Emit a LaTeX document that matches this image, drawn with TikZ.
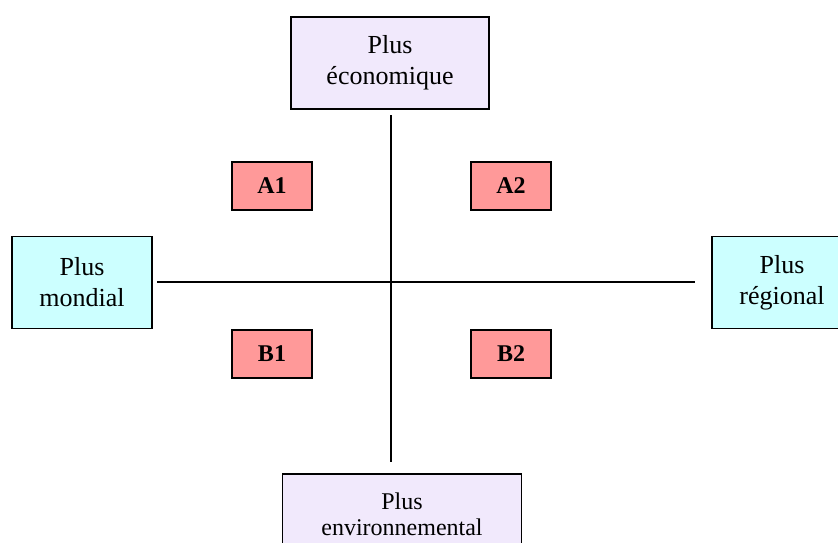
\documentclass[tikz,border=0pt]{standalone}
\usepackage{fontspec}
\setmainfont{Liberation Serif}
\definecolor{lav}{RGB}{241,233,252}
\definecolor{cyanbox}{RGB}{204,255,255}
\definecolor{salmon}{RGB}{255,153,153}
\tikzset{
  bigbox/.style={draw=black, line width=1.5pt, align=center, inner sep=0pt,
    font=\fontsize{26}{31}\selectfont},
  topbox/.style={bigbox, fill=lav, minimum width=198pt, minimum height=92pt},
  sidebox/.style={bigbox, fill=cyanbox, minimum width=140pt, minimum height=92pt},
  botbox/.style={bigbox, fill=lav, minimum width=239pt, minimum height=80pt,
    font=\fontsize{24}{26}\selectfont},
  scen/.style={draw=black, line width=1.5pt, fill=salmon, minimum width=80pt,
    minimum height=48pt, inner sep=0pt, font=\fontsize{24}{26}\selectfont\bfseries},
  axis/.style={line width=2pt, black}
}
\begin{document}
\begin{tikzpicture}[x=1pt,y=-1pt]
\clip (0,0) rectangle (838,543);
\fill[white] (0,0) rectangle (838,543);
\node[topbox] (eco) at (390,63) {Plus\\économique};
\node[sidebox] (mon) at (82,282.5) {Plus\\mondial};
\node[sidebox] (reg) at (782,282.5) {Plus\\régional};
\node[botbox] (env) at (402,514) {Plus\\environnemental};
\node[scen] (a1) at (272,186) {A1};
\node[scen] (a2) at (511,186) {A2};
\node[scen] (b1) at (272,354) {B1};
\node[scen] (b2) at (511,354) {B2};
\coordinate (vt) at (391,115);
\coordinate (vb) at (391,462);
\coordinate (hl) at (157,282);
\coordinate (hr) at (695,282);
\draw[axis] (vt) -- (vb);
\draw[axis] (hl) -- (hr);
\end{tikzpicture}
\end{document}
